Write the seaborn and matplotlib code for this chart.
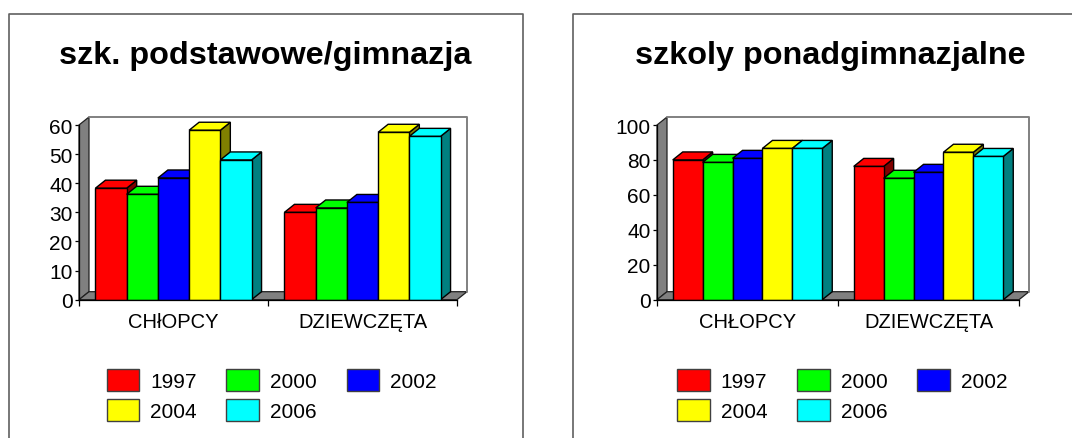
import matplotlib
matplotlib.use("Agg")
import matplotlib.pyplot as plt
from matplotlib.patches import Patch, Polygon
from matplotlib.lines import Line2D
import pandas as pd
import seaborn as sns

sns.set_theme(style="white")
plt.rcParams['font.family'] = ['Liberation Sans', 'DejaVu Sans']

years = ['1997', '2000', '2002', '2004', '2006']
colors = ['#ff0000', '#00ff00', '#0000ff', '#ffff00', '#00ffff']
side_colors = ['#800000', '#008000', '#000080', '#808000', '#008080']

left_title = 'szk. podstawowe/gimnazja'
left_groups = ['CHłOPCY', 'DZIEWCZĘTA']
left_boys = [38.3, 36.2, 41.8, 58.2, 48.0]
left_girls = [30.0, 31.5, 33.4, 57.5, 56.1]
left_ticks = [0, 10, 20, 30, 40, 50, 60]

right_title = 'szkoly ponadgimnazjalne'
right_groups = ['CHŁOPCY', 'DZIEWCZĘTA']
right_boys = [80.0, 78.6, 80.9, 86.6, 86.6]
right_girls = [76.3, 69.5, 72.9, 84.4, 82.0]
right_ticks = [0, 20, 40, 60, 80, 100]

W, H = 1072, 439
DX, DY = 10, 8
FONT = 15
TITLE = 23.3
GREY = '#808080'
fig = plt.figure(figsize=(W / 100, H / 100), dpi=100, facecolor='white')


def panel(x0, x1, title, title_x, groups, boys, girls, ticks, leg_x, frame):
    y0, y1 = 300.7, 126
    ax = fig.add_axes([x0 / W, 1 - y0 / H, (x1 - x0) / W, (y0 - y1) / H])
    ax.patch.set_visible(False)
    df = pd.DataFrame({
        'group': [groups[0]] * 5 + [groups[1]] * 5,
        'year': years * 2,
        'value': boys + girls,
    })
    sns.barplot(data=df, x='group', y='value', hue='year', hue_order=years,
                palette=dict(zip(years, colors)), saturation=1, width=0.826,
                gap=0, edgecolor='black', linewidth=1.0, legend=False, ax=ax)
    ax.set_xlim(-0.5, 1.5)
    ax.set_ylim(ticks[0], ticks[-1])
    ax.set_xlabel('')
    ax.set_ylabel('')
    fx = 2 / (x1 - x0)
    fy = (ticks[-1] - ticks[0]) / (y0 - y1)
    dx, dy = DX * fx, DY * fy

    # walls and floor of the box
    xl, xr, yb, yt = -0.5, 1.5, ticks[0], ticks[-1]
    ax.add_patch(Polygon([(xl, yb), (xl + dx, yb + dy), (xl + dx, yt + dy), (xl, yt)],
                         closed=True, fc=GREY, ec='#202020', lw=0.9, clip_on=False, zorder=1))
    ax.add_patch(Polygon([(xl, yb), (xl + dx, yb + dy), (xr + dx, yb + dy), (xr, yb)],
                         closed=True, fc=GREY, ec='#202020', lw=0.9, clip_on=False, zorder=1))
    ax.add_line(Line2D([xl + dx, xr + dx, xr + dx], [yt + dy, yt + dy, yb + dy],
                       color=GREY, lw=1.4, clip_on=False, zorder=1))

    # depth faces, built from the bars seaborn drew
    bars = []
    for c, cont in enumerate(ax.containers):
        for p in cont.patches:
            bars.append((p.get_x(), p, c))
    bars.sort(key=lambda t: t[0])
    for i, (_, p, c) in enumerate(bars):
        z = 3 + i
        p.set_zorder(z + 0.2)
        a, b, h = p.get_x(), p.get_x() + p.get_width(), p.get_height()
        ax.add_patch(Polygon([(b, 0), (b + dx, dy), (b + dx, h + dy), (b, h)], closed=True,
                             fc=side_colors[c], ec='black', lw=1.0, clip_on=False, zorder=z))
        ax.add_patch(Polygon([(a, h), (a + dx, h + dy), (b + dx, h + dy), (b, h)], closed=True,
                             fc=colors[c], ec='black', lw=1.0, clip_on=False, zorder=z))

    for s in ('top', 'right'):
        ax.spines[s].set_visible(False)
    for s in ('left', 'bottom'):
        ax.spines[s].set_color('black')
        ax.spines[s].set_linewidth(0.9)
        ax.spines[s].set_zorder(30)
    ax.set_yticks(ticks)
    ax.set_xticks([0, 1])
    ax.set_xticklabels(groups)
    ax.set_xticks([-0.5, 0.5, 1.5], minor=True)
    ax.tick_params(axis='y', which='major', left=True, length=3.2, width=0.9, color='black',
                   pad=1.5, labelsize=FONT, labelcolor='black')
    ax.tick_params(axis='x', which='major', bottom=False, pad=2.5, labelsize=14.5, labelcolor='black')
    ax.tick_params(axis='x', which='minor', bottom=True, length=4.5, width=0.9, color='black')

    fig.text(title_x / W, 1 - 64 / H, title, ha='center', va='baseline',
             fontsize=TITLE, fontweight='bold', color='black')

    order = [0, 3, 1, 4, 2]
    handles = [Patch(fc=colors[i], ec='#404040', lw=1.0, label=years[i]) for i in order]
    fig.legend(handles=handles, ncol=3, loc='upper left', frameon=False, fontsize=FONT,
               bbox_to_anchor=(leg_x / W, 1 - 370 / H), borderpad=0, borderaxespad=0,
               handlelength=1.58, handleheight=1.25, handletextpad=0.52,
               columnspacing=1.42, labelspacing=0.40, labelcolor='black')

    xa, xb = frame
    fig.add_artist(Line2D([xa / W, xa / W, xb / W, xb / W], [0, 1 - 14.5 / H, 1 - 14.5 / H, 0],
                          transform=fig.transFigure, color='#606060', lw=1.2))


panel(79, 457, left_title, 265, left_groups, left_boys, left_girls, left_ticks, 106.5, (8.5, 522.7))
panel(657, 1019, right_title, 830, right_groups, right_boys, right_girls, right_ticks, 677, (572.7, 1080))

fig.savefig('out.png', dpi=100, facecolor='white')
